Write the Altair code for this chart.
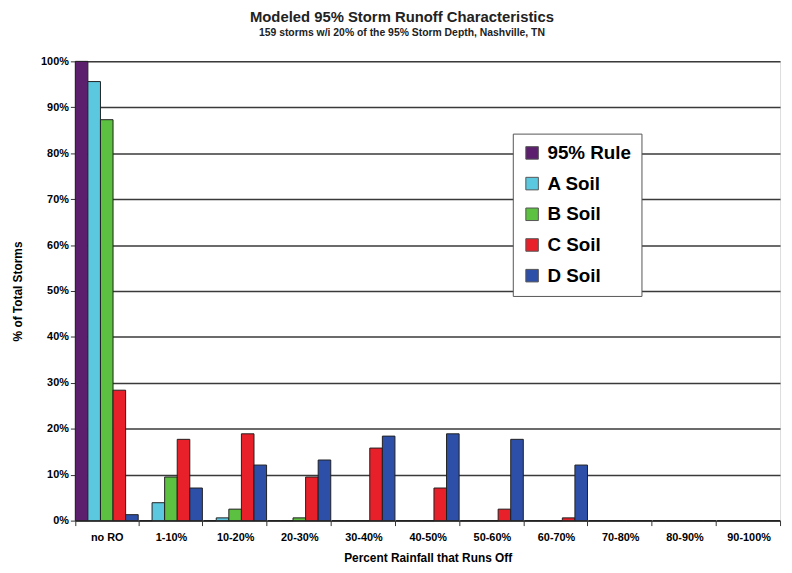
import altair as alt
import pandas as pd

categories = ["no RO", "1-10%", "10-20%", "20-30%", "30-40%", "40-50%", "50-60%", "60-70%", "70-80%", "80-90%", "90-100%"]
series = ["95% Rule", "A Soil", "B Soil", "C Soil", "D Soil"]
rule95 = [100, 0, 0, 0, 0, 0, 0, 0, 0, 0, 0]
a_soil = [95.6, 3.9, 0.6, 0, 0, 0, 0, 0, 0, 0, 0]
b_soil = [87.3, 9.5, 2.5, 0.6, 0, 0, 0, 0, 0, 0, 0]
c_soil = [28.4, 17.7, 18.9, 9.5, 15.8, 7.1, 2.5, 0.6, 0, 0, 0]
d_soil = [1.3, 7.1, 12.1, 13.2, 18.4, 18.9, 17.7, 12.1, 0, 0, 0]
y_ticks = [0, 10, 20, 30, 40, 50, 60, 70, 80, 90, 100]
colors = ["#5c1f6e", "#5cc8e0", "#5cc040", "#e8202a", "#2d4fa8"]

rows = []
for s, vals in zip(series, [rule95, a_soil, b_soil, c_soil, d_soil]):
    for c, v in zip(categories, vals):
        rows.append({"cat": c, "series": s, "value": v})
df = pd.DataFrame(rows)

font = "Liberation Sans"

chart = alt.Chart(df).mark_bar(stroke="#202020", strokeWidth=1).encode(
    x=alt.X("cat:N", sort=categories, title="Percent Rainfall that Runs Off",
            scale=alt.Scale(paddingInner=0.02, paddingOuter=0.0),
            axis=alt.Axis(labelAngle=0, labelFont=font, labelFontWeight="bold", labelFontSize=11,
                          labelColor="#000", titleFont=font, titleFontWeight="bold", titleFontSize=12,
                          titleColor="#000", tickBand="extent", domainColor="#333", tickColor="#333",
                          labelPadding=6, titlePadding=10)),
    xOffset=alt.XOffset("series:N", sort=series),
    y=alt.Y("value:Q", title="% of Total Storms",
            scale=alt.Scale(domain=[0, 100], nice=False),
            axis=alt.Axis(values=y_ticks, labelExpr="datum.value + '%'", labelOverlap=False,
                          labelFont=font, labelFontWeight="bold", labelFontSize=11, labelColor="#000",
                          titleFont=font, titleFontWeight="bold", titleFontSize=12, titleColor="#000",
                          gridColor="#3a3a3a", gridWidth=1.5, domainColor="#333", tickColor="#333",
                          titlePadding=16)),
    color=alt.Color("series:N", sort=series, scale=alt.Scale(domain=series, range=colors),
                    legend=alt.Legend(title=None, orient="none", legendX=442, legendY=73,
                                      labelFont=font, labelFontWeight="bold", labelFontSize=19,
                                      labelColor="#000", symbolType="square", symbolSize=160,
                                      symbolStrokeColor="#555", symbolStrokeWidth=1,
                                      fillColor="white", strokeColor="#555", padding=10,
                                      rowPadding=11, labelOffset=6)),
).properties(
    width=712, height=464,
    title=alt.TitleParams("Modeled 95% Storm Runoff Characteristics",
                          subtitle="159 storms w/i 20% of the 95% Storm Depth, Nashville, TN",
                          font=font, fontSize=15, fontWeight="bold", color="#222",
                          subtitleFont=font, subtitleFontSize=10.5, subtitleFontWeight="bold",
                          subtitleColor="#222", anchor="middle", dx=-26, offset=17, subtitlePadding=3),
    padding={"left": 68, "top": 51, "right": 4, "bottom": 50},
    autosize=alt.AutoSizeParams(type="none"),
).configure_view(fill="#c0c0c0", stroke=None).configure(background="white")

chart.save("out.html", embed_options={"renderer": "svg", "actions": False})
